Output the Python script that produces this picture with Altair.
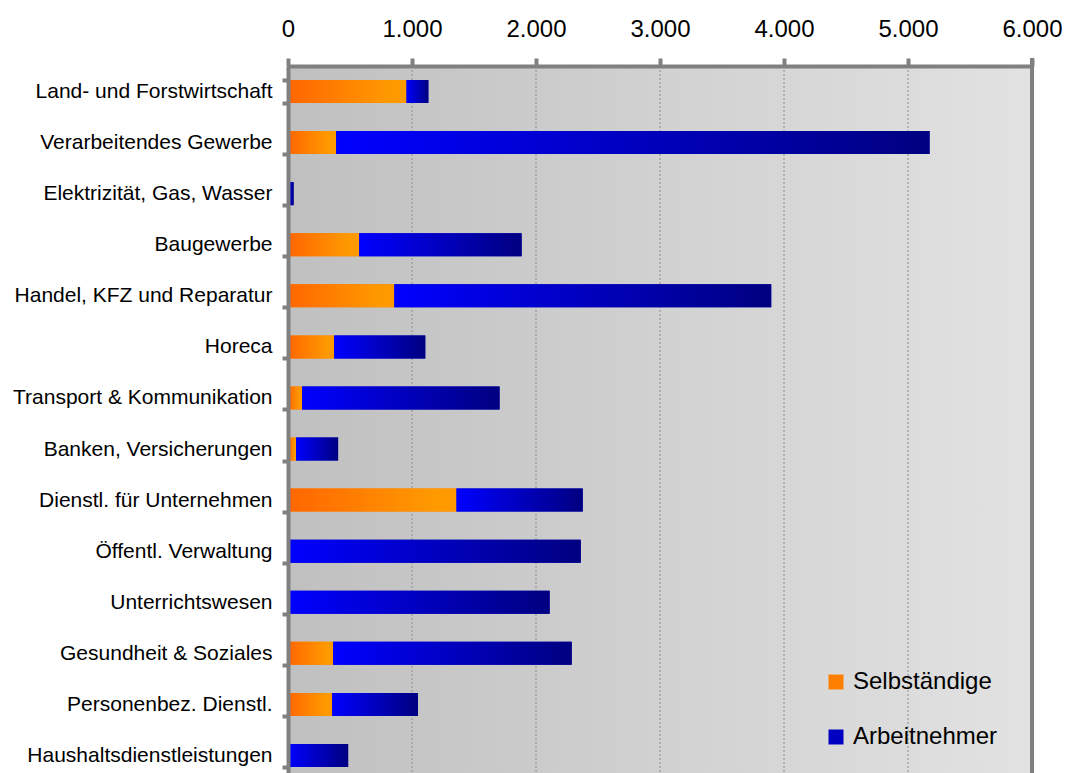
import altair as alt
import pandas as pd

# Erwerbstätige nach Wirtschaftszweig (in Tausend)
branchen = [
    "Land- und Forstwirtschaft",
    "Verarbeitendes Gewerbe",
    "Elektrizität, Gas, Wasser",
    "Baugewerbe",
    "Handel, KFZ und Reparatur",
    "Horeca",
    "Transport & Kommunikation",
    "Banken, Versicherungen",
    "Dienstl. für Unternehmen",
    "Öffentl. Verwaltung",
    "Unterrichtswesen",
    "Gesundheit & Soziales",
    "Personenbez. Dienstl.",
    "Haushaltsdienstleistungen",
]
selbstaendige = [955, 388, 0, 574, 857, 372, 113, 65, 1358, 0, 0, 364, 356, 0]
arbeitnehmer = [177, 4786, 45, 1310, 3040, 735, 1593, 339, 1019, 2361, 2110, 1924, 692, 485]
serien = ["Selbständige", "Arbeitnehmer"]
achsen_werte = [0, 1000, 2000, 3000, 4000, 5000, 6000]
gitter_werte = [1000, 2000, 3000, 4000, 5000]

W, H = 744, 715

rows = []
for b, s, a in zip(branchen, selbstaendige, arbeitnehmer):
    rows.append({"Branche": b, "Art": serien[0], "start": 0, "ende": s})
    rows.append({"Branche": b, "Art": serien[1], "start": s, "ende": s + a})
df = pd.DataFrame(rows)

y_enc = alt.Y(
    "Branche:N",
    sort=branchen,
    scale=alt.Scale(paddingInner=0.55, paddingOuter=0.275),
    axis=alt.Axis(
        title=None,
        labelFontSize=21,
        labelColor="black",
        labelLimit=400,
        labelPadding=10,
        tickBand="extent",
        tickSize=6,
        tickWidth=4,
        tickColor="#808080",
        domainColor="#808080",
        domainWidth=4,
        grid=False,
        zindex=1,
    ),
)
x_scale = alt.Scale(domain=[0, 6000], nice=False)
x_axis = alt.Axis(
    orient="top",
    title=None,
    values=achsen_werte,
    labelExpr="replace(format(datum.value, ','), ',', '.')",
    labelFontSize=24,
    labelColor="black",
    labelFlush=False,
    labelOverlap=False,
    labelPadding=17,
    tickSize=8,
    tickWidth=4,
    tickColor="#808080",
    domainColor="#808080",
    domainWidth=4,
    grid=False,
    zindex=1,
)

orange = alt.Gradient(
    gradient="linear",
    stops=[alt.GradientStop(color="#ff6600", offset=0),
           alt.GradientStop(color="#ff9900", offset=0.85),
           alt.GradientStop(color="#ff9900", offset=1)],
    x1=0, x2=1, y1=0, y2=0,
)
blau = alt.Gradient(
    gradient="linear",
    stops=[alt.GradientStop(color="#0000ff", offset=0),
           alt.GradientStop(color="#000080", offset=1)],
    x1=0, x2=1, y1=0, y2=0,
)
hintergrund = alt.Gradient(
    gradient="linear",
    stops=[alt.GradientStop(color="#c0c0c0", offset=0),
           alt.GradientStop(color="#e2e2e2", offset=1)],
    x1=0, x2=1, y1=0, y2=0,
)

bg = alt.Chart(pd.DataFrame({"z": [0]})).mark_rect(color=hintergrund).encode(
    x=alt.value(0), x2=alt.value(W), y=alt.value(0), y2=alt.value(H)
)

gitter = alt.Chart(pd.DataFrame({"start": gitter_werte})).mark_rule(
    color="#8c8c8c", strokeDash=[2, 2], strokeWidth=1
).encode(
    x=alt.X("start:Q", scale=x_scale, axis=x_axis),
    y=alt.value(0),
    y2=alt.value(H),
)

basis = alt.Chart(df).mark_bar().encode(
    x=alt.X("start:Q", scale=x_scale, axis=x_axis),
    x2="ende:Q",
    y=y_enc,
    color=alt.Color(
        "Art:N",
        scale=alt.Scale(domain=serien, range=["#ff8000", "#0000c0"]),
        legend=alt.Legend(
            title=None,
            orient="none",
            legendX=536,
            legendY=604,
            symbolType="square",
            symbolSize=225,
            symbolStrokeWidth=0,
            labelFontSize=24,
            labelColor="black",
            labelOffset=5,
            rowPadding=31,
            padding=0,
        ),
    ),
)

seg_orange = alt.Chart(df).transform_filter(
    alt.datum.Art == serien[0]
).mark_bar(color=orange).encode(
    x=alt.X("start:Q", scale=x_scale, axis=x_axis), x2="ende:Q", y=y_enc
)
seg_blau = alt.Chart(df).transform_filter(
    alt.datum.Art == serien[1]
).mark_bar(color=blau).encode(
    x=alt.X("start:Q", scale=x_scale, axis=x_axis), x2="ende:Q", y=y_enc
)

rand = alt.Chart(pd.DataFrame({"z": [0]})).mark_rule(
    color="#808080", strokeWidth=4
).encode(x=alt.value(W), y=alt.value(-8), y2=alt.value(H))

chart = alt.layer(bg, gitter, basis, seg_orange, seg_blau, rand).properties(
    width=W, height=H, padding={"left": 12, "top": 17, "right": 0, "bottom": 0}
).configure_view(stroke=None).configure(font="Liberation Sans")

chart.save("out.html", embed_options={"renderer": "svg", "actions": False})
